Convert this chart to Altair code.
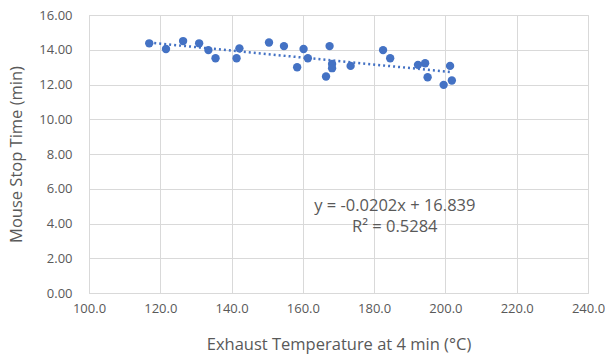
import altair as alt
import pandas as pd

temps = [116.9, 121.6, 126.4, 130.9, 133.5, 135.5, 142.2, 141.4, 150.5, 154.7,
         158.4, 160.2, 161.4, 166.5, 167.5, 168.2, 168.2, 173.4, 182.5, 184.5,
         192.3, 194.3, 195.0, 199.5, 201.3, 201.8]
stop_times = [14.37, 14.04, 14.50, 14.37, 13.98, 13.51, 14.08, 13.51, 14.42, 14.21,
              12.99, 14.04, 13.51, 12.46, 14.21, 13.18, 12.94, 13.07, 13.98, 13.51,
              13.13, 13.22, 12.42, 11.98, 13.07, 12.23]

ann_text = ["y = -0.0202x + 16.839", "R² = 0.5284"]
ann_x = [185.8, 185.8]
ann_y = [5.03, 3.79]

x_ticks = [100, 120, 140, 160, 180, 200, 220, 240]
y_ticks = [0, 2, 4, 6, 8, 10, 12, 14, 16]

df = pd.DataFrame({"temp": temps, "time": stop_times})
ann = pd.DataFrame({"t": ann_text, "temp": ann_x, "time": ann_y})

FONT = "Open Sans"
GRAY = "#595959"
BLUE = "#4472C4"

xs = alt.Scale(domain=[100, 240], nice=False, zero=False)
ys = alt.Scale(domain=[0, 16], nice=False)

common = dict(grid=True, gridColor="#d9d9d9", domainColor="#d9d9d9", ticks=False,
              labelColor=GRAY, titleColor=GRAY, labelFont=FONT, titleFont=FONT,
              labelFontSize=13, titleFontSize=16.5, titleFontWeight="normal",
              labelFlush=False, labelOverlap=False)

xaxis = alt.Axis(values=x_ticks, format=".1f",
                 title="Exhaust Temperature at 4 min (°C)",
                 labelPadding=9, titlePadding=21, **common)
yaxis = alt.Axis(values=y_ticks, format=".2f",
                 title="Mouse Stop Time (min)",
                 labelPadding=17, titlePadding=14, **common)

X = alt.X("temp:Q", scale=xs, axis=xaxis)
Y = alt.Y("time:Q", scale=ys, axis=yaxis)

base = alt.Chart(df)

points = base.mark_circle(size=70, color=BLUE, opacity=1).encode(x=X, y=Y)

trend = base.transform_regression("temp", "time", method="linear").mark_line(
    color=BLUE, strokeDash=[2, 3], strokeWidth=2.5
).encode(x=X, y=Y)

labels = alt.Chart(ann).mark_text(font=FONT, fontSize=16.5, color=GRAY).encode(
    x=X, y=Y, text="t:N"
)

chart = alt.layer(points, trend, labels).properties(
    width=499, height=278,
    autosize=alt.AutoSizeParams(type="none"),
    padding={"left": 89, "top": 15, "right": 17, "bottom": 68},
).configure_view(stroke=None).configure(background="white")

chart.save("out.html", embed_options={"renderer": "svg", "actions": False})
